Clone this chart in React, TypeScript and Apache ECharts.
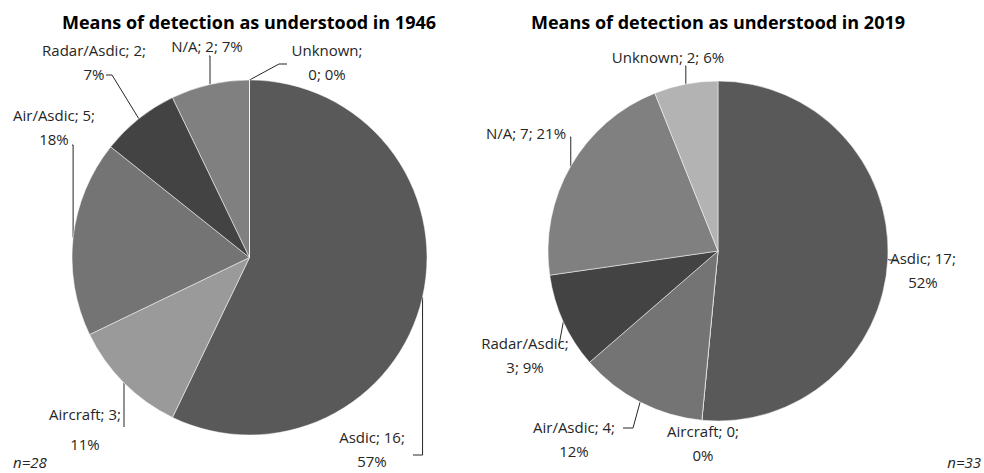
import React, { useEffect, useRef } from "react";
import * as echarts from "echarts";

// ---- data ----
const categories = ["Asdic", "Aircraft", "Air/Asdic", "Radar/Asdic", "N/A", "Unknown"];
const values1946 = [16, 3, 5, 2, 2, 0];
const values2019 = [17, 0, 4, 3, 7, 2];
const titles = [
  "Means of detection as understood in 1946",
  "Means of detection as understood in 2019",
];
const sampleNotes = ["n=28", "n=33"];

// ---- styles / layout ----
const sliceColors = ["#595959", "#9a9a9a", "#747474", "#434343", "#808080", "#b3b3b3"];
const FONT = "'Open Sans', 'Noto Sans', sans-serif";
const pies = [
  { center: [249.5, 257.5], radius: 177.5, titleX: 249, noteX: 13, noteAlign: "left" },
  { center: [718, 251], radius: 170, titleX: 718, noteX: 981, noteAlign: "right" },
];
const TWO = "{b}; {c};\n{d}%";
const ONE = "{b}; {c}; {d}%";
const NAME_BREAK = "{b};\n{c}; {d}%";
// per chart, per slice: text template, label centre, line anchor offset, line mode, stub
type Spec = { fmt: string; pos: number[]; anchor: number[]; mode: string; stub: number; lh?: number };
const labelSpecs: Spec[][] = [
  [
    { fmt: TWO, pos: [372, 449], anchor: [41, 6], mode: "v", stub: 0 },
    { fmt: TWO, pos: [85, 429], anchor: [39, -2], mode: "v", stub: 0, lh: 30 },
    { fmt: TWO, pos: [54, 127], anchor: [18, 18], mode: "v", stub: 0 },
    { fmt: TWO, pos: [94, 62], anchor: [12, 13], mode: "d", stub: 6 },
    { fmt: ONE, pos: [207, 46], anchor: [2, 10], mode: "v", stub: 0 },
    { fmt: NAME_BREAK, pos: [327, 62], anchor: [-40, 2], mode: "d", stub: -8 },
  ],
  [
    { fmt: TWO, pos: [923, 270], anchor: [-26, -10], mode: "d", stub: -8 },
    { fmt: TWO, pos: [703, 443], anchor: [0, 0], mode: "none", stub: 0 },
    { fmt: TWO, pos: [574, 439], anchor: [49, -11], mode: "d", stub: 10 },
    { fmt: NAME_BREAK, pos: [525, 355], anchor: [34, -10], mode: "d", stub: 0 },
    { fmt: ONE, pos: [526, 133], anchor: [44, 4], mode: "v", stub: 0 },
    { fmt: ONE, pos: [668, 57], anchor: [17, 9], mode: "v", stub: 0 },
  ],
];

function buildSeries(values: number[], idx: number) {
  const geo = pies[idx];
  const specs = labelSpecs[idx];
  return {
    type: "pie",
    center: geo.center,
    radius: geo.radius,
    startAngle: 90,
    clockwise: true,
    percentPrecision: 0,
    avoidLabelOverlap: false,
    silent: true,
    itemStyle: { borderColor: "#ffffff", borderWidth: 0.5 },
    label: {
      show: true,
      position: "outside",
      fontFamily: FONT,
      fontSize: 15,
      color: "#262626",
      lineHeight: 24,
      align: "center",
    },
    labelLine: {
      show: true,
      length: 10,
      length2: 0,
      lineStyle: { color: "#262626", width: 1 },
    },
    data: categories.map((name, i) => ({
      name,
      value: values[i],
      itemStyle: { color: sliceColors[i] },
      label: { formatter: specs[i].fmt, lineHeight: specs[i].lh || 24 },
      labelLine: { show: specs[i].mode !== "none" },
    })),
    labelLayout: (p: any) => {
      const s = specs[p.dataIndex];
      const out: any = { x: s.pos[0], y: s.pos[1], align: "center", verticalAlign: "middle" };
      const pts = p.labelLinePoints;
      if (pts && pts.length && s.mode !== "none") {
        const P = pts[0];
        const A = [s.pos[0] + s.anchor[0], s.pos[1] + s.anchor[1]];
        const B = s.mode === "v" ? [P[0], A[1]] : [A[0] + s.stub, A[1]];
        out.labelLinePoints = [P, B, A];
      }
      return out;
    },
  };
}

export default function App() {
  const ref = useRef<HTMLDivElement>(null);
  useEffect(() => {
    if (!ref.current) return;
    const chart = echarts.init(ref.current, undefined, { renderer: "svg" });
    const graphics: any[] = [];
    pies.forEach((g, i) => {
      graphics.push({
        type: "text",
        x: g.titleX,
        y: 22,
        style: {
          text: titles[i],
          font: `bold 18px ${FONT}`,
          fill: "#000000",
          align: "center",
          verticalAlign: "middle",
          textAlign: "center",
          textVerticalAlign: "middle",
        },
      });
      graphics.push({
        type: "text",
        x: g.noteX,
        y: 462,
        style: {
          text: sampleNotes[i],
          font: `italic 15px ${FONT}`,
          fill: "#262626",
          align: g.noteAlign,
          verticalAlign: "middle",
          textAlign: g.noteAlign,
          textVerticalAlign: "middle",
        },
      });
    });
    chart.setOption({
      animation: false,
      backgroundColor: "#ffffff",
      graphic: graphics,
      series: [buildSeries(values1946, 0), buildSeries(values2019, 1)],
    });
    return () => chart.dispose();
  }, []);
  return (
    <div
      ref={ref}
      style={{ position: "absolute", left: 0, top: 0, width: 984, height: 473 }}
    />
  );
}
